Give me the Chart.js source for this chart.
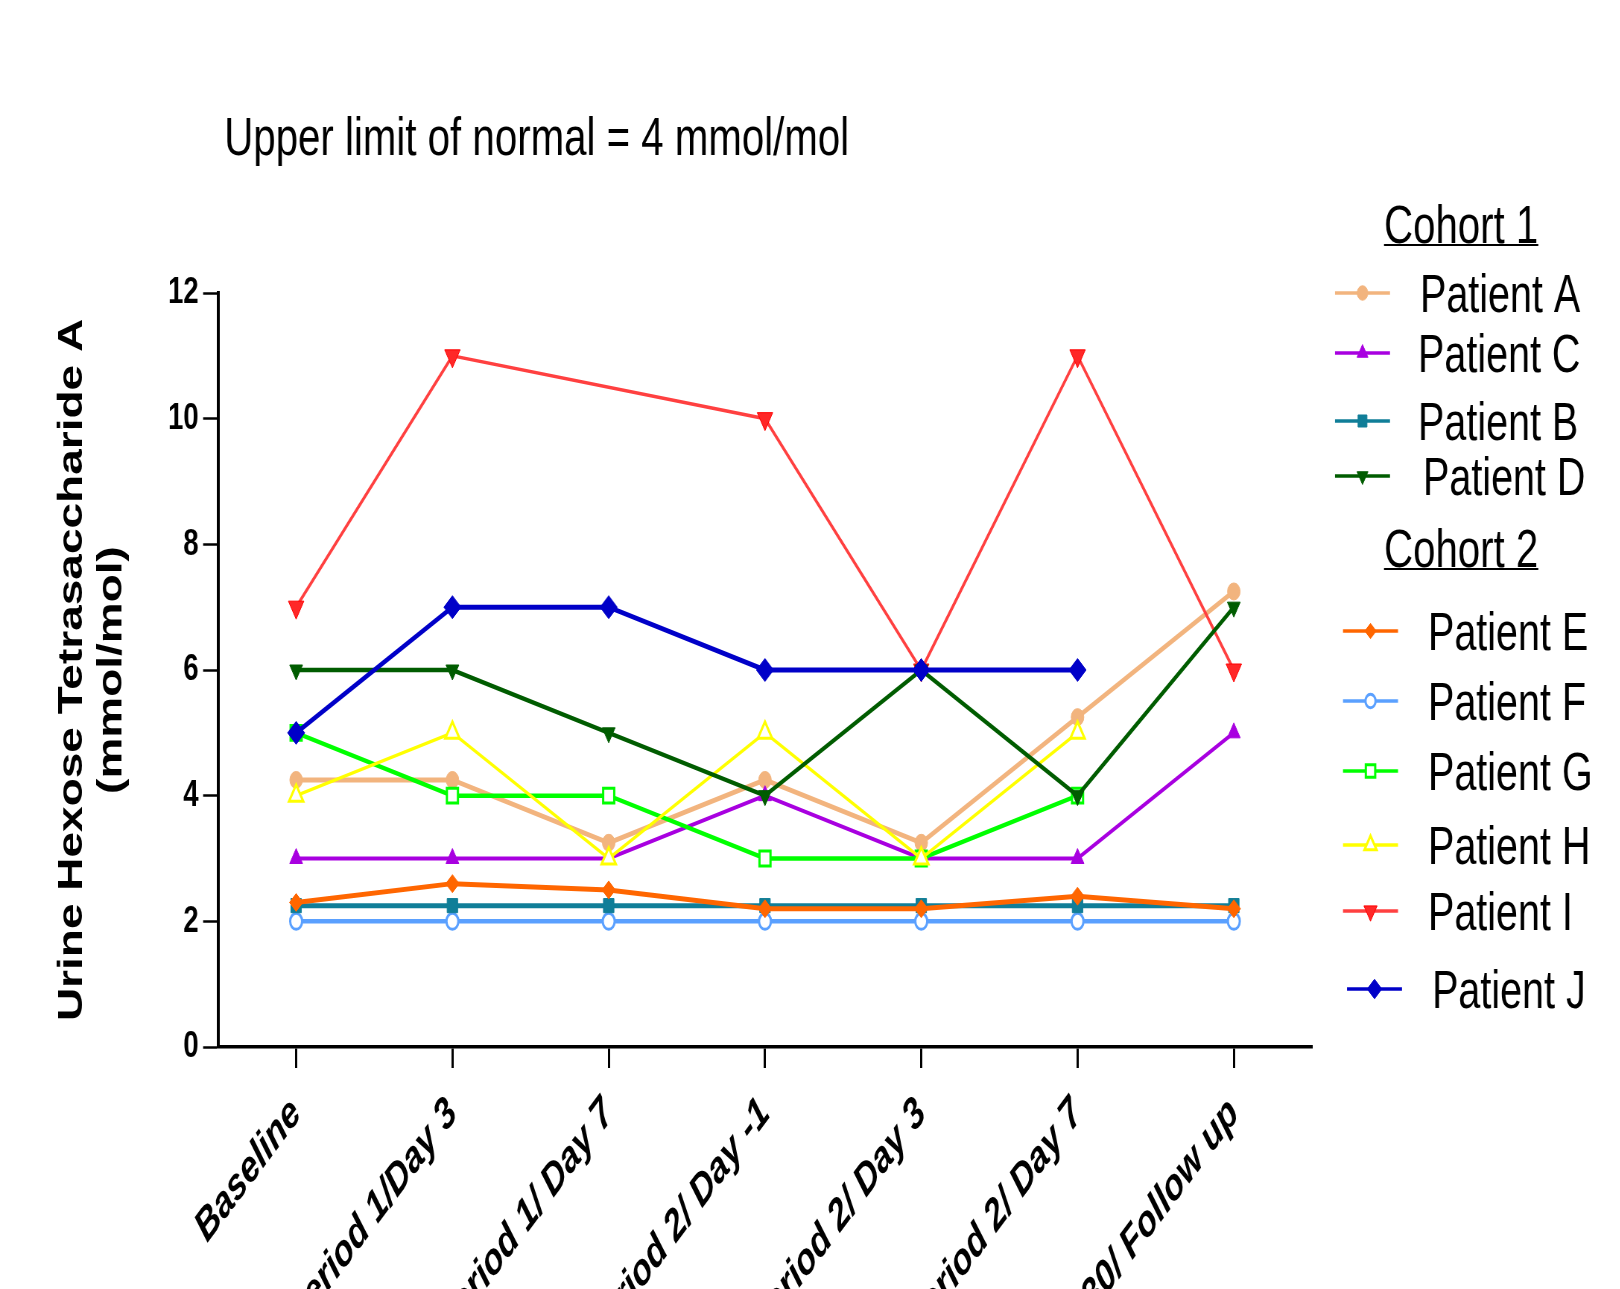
<!DOCTYPE html>
<html>
<head>
<meta charset="utf-8">
<script src="https://cdn.jsdelivr.net/npm/chart.js@4/dist/chart.umd.min.js"></script>
<style>
  html, body { margin: 0; padding: 0; background: #fff; overflow: hidden; }
  #frame { position: relative; width: 1620px; height: 1289px; overflow: hidden; background: #fff; }
  /* the figure is drawn wide and compressed horizontally, like the exported graph */
  #inner { position: absolute; left: 0; top: 0; width: 2175px; height: 1400px;
           transform: scaleX(0.745); transform-origin: 0 0; }
  canvas { display: block; }
</style>
</head>
<body>
<div id="frame"><div id="inner"><canvas id="c" width="2175" height="1400"></canvas></div></div>
<script>
const FONT = "'Liberation Sans', Arial, Helvetica, sans-serif";

const timepoints = ['Baseline', 'Period 1/Day 3', 'Period 1/ Day 7', 'Period 2/ Day -1',
                    'Period 2/ Day 3', 'Period 2/ Day 7', 'Day 30/ Follow up'];
const yTicks = [0, 2, 4, 6, 8, 10, 12];

// Urine Hex4 values (mmol/mol) per visit
const patientA = [4.25, 4.25, 3.25, 4.25, 3.25, 5.25, 7.25];
const patientB = [2.25, 2.25, 2.25, 2.25, 2.25, 2.25, 2.25];
const patientC = [3, 3, 3, 4, 3, 3, 5];
const patientD = [6, 6, 5, 4, 6, 4, 7];
const patientE = [2.3, 2.6, 2.5, 2.2, 2.2, 2.4, 2.2];
const patientF = [2, 2, 2, 2, 2, 2, 2];
const patientG = [5, 4, 4, 3, 3, 4, null];
const patientH = [4, 5, 3, 5, 3, 5, null];
const patientI = [7, 11, null, 10, 6, 11, 6];
const patientJ = [5, 7, 7, 6, 6, 6, null];

const cohort1 = ['Patient A', 'Patient C', 'Patient B', 'Patient D'];
const cohort2 = ['Patient E', 'Patient F', 'Patient G', 'Patient H', 'Patient I', 'Patient J'];

function series(label, data, color, style, opts) {
  return Object.assign({
    label, data,
    borderColor: color,
    backgroundColor: color,
    pointBackgroundColor: color,
    pointBorderColor: color,
    pointStyle: style,
    pointRadius: 8,
    pointBorderWidth: 1,
    pointRotation: 0,
    borderWidth: 4,
    tension: 0,
    spanGaps: true,
    fill: false
  }, opts || {});
}

// first dataset is painted last (on top)
const datasets = [
  series('Patient J', patientJ, '#0000C8', 'rectRot', { borderWidth: 5, pointRadius: 11.5 }),
  series('Patient E', patientE, '#FF6600', 'rectRot', { borderWidth: 5, pointRadius: 9 }),
  series('Patient B', patientB, '#107E98', 'rect', { borderWidth: 5, pointRadius: 10 }),
  series('Patient D', patientD, '#005C00', 'triangle', { borderWidth: 4.5, pointRadius: 10, pointRotation: 180 }),
  series('Patient I', patientI, '#FF4040', 'triangle', { borderWidth: 3.5, pointRadius: 12, pointRotation: 180,
                                                        pointBackgroundColor: '#FF2828', pointBorderColor: '#FF0000' }),
  series('Patient H', patientH, '#FFFF00', 'triangle', { borderWidth: 3.5, pointRadius: 11,
                                                        pointBackgroundColor: '#FFFFFF', pointBorderWidth: 3 }),
  series('Patient G', patientG, '#00FF00', 'rect', { borderWidth: 4.5, pointRadius: 10.5,
                                                    pointBackgroundColor: '#FFFFFF', pointBorderWidth: 3 }),
  series('Patient C', patientC, '#A800E0', 'triangle', { borderWidth: 4, pointRadius: 10 }),
  series('Patient A', patientA, '#F2B47E', 'circle', { borderWidth: 5, pointRadius: 8.5 }),
  series('Patient F', patientF, '#5AA0FF', 'circle', { borderWidth: 4.5, pointRadius: 8,
                                                      pointBackgroundColor: '#FFFFFF', pointBorderWidth: 3 })
];

// heading text above the plot
const headingPlugin = {
  id: 'heading',
  afterDraw(chart) {
    const ctx = chart.ctx;
    ctx.save();
    ctx.fillStyle = '#000';
    ctx.font = '54px ' + FONT;
    ctx.textAlign = 'left';
    ctx.textBaseline = 'alphabetic';
    ctx.fillText('Upper limit of normal = 4 mmol/mol', 301, 155);
    ctx.restore();
  }
};

// grouped legend on the right: cohort headings with their patients
const cohortLegendPlugin = {
  id: 'cohortLegend',
  afterDraw(chart) {
    const ctx = chart.ctx;
    const k = 1 / 0.745;
    const byLabel = {};
    chart.data.datasets.forEach(d => { byLabel[d.label] = d; });

    function heading(text, x, baseline) {
      ctx.font = '54px ' + FONT;
      ctx.fillStyle = '#000';
      ctx.textAlign = 'left';
      ctx.textBaseline = 'alphabetic';
      ctx.fillText(text, x, baseline);
      const w = ctx.measureText(text).width;
      ctx.fillRect(x, baseline + 1, w, 2);
    }
    function entry(label, x0, x1, y, textX) {
      const d = byLabel[label];
      ctx.save();
      ctx.strokeStyle = d.borderColor;
      ctx.lineWidth = 3.5;
      ctx.beginPath();
      ctx.moveTo(x0, y);
      ctx.lineTo(x1, y);
      ctx.stroke();
      ctx.fillStyle = d.pointBackgroundColor;
      ctx.strokeStyle = d.pointBorderColor;
      ctx.lineWidth = d.pointBorderWidth;
      const opts = { pointStyle: d.pointStyle, radius: d.pointRadius * 0.85, rotation: d.pointRotation,
                     borderWidth: d.pointBorderWidth };
      Chart.helpers.drawPoint(ctx, opts, (x0 + x1) / 2, y);
      ctx.restore();
      ctx.font = '53px ' + FONT;
      ctx.fillStyle = '#000';
      ctx.textAlign = 'left';
      ctx.textBaseline = 'alphabetic';
      ctx.fillText(label, textX, y + 19);
    }

    ctx.save();
    heading('Cohort 1', 1384 * k, 243);
    const c1y = [293, 353, 421, 476];
    const c1tx = [1420, 1418, 1418, 1423];
    cohort1.forEach((p, i) => entry(p, 1335 * k, 1390 * k, c1y[i], c1tx[i] * k));

    heading('Cohort 2', 1384 * k, 567);
    const c2y = [631, 701, 771, 845, 911, 989];
    cohort2.forEach((p, i) => {
      const shift = i === 5 ? 4 : 0;
      entry(p, (1343 + shift) * k, (1398 + shift) * k, c2y[i], (1428 + shift) * k);
    });
    ctx.restore();
  }
};

new Chart(document.getElementById('c'), {
  type: 'line',
  data: { labels: timepoints, datasets },
  plugins: [headingPlugin, cohortLegendPlugin],
  options: {
    responsive: false,
    animation: false,
    devicePixelRatio: 1,
    layout: { padding: { top: 293, right: 414, bottom: 0, left: 0 } },
    plugins: { legend: { display: false }, tooltip: { enabled: false }, title: { display: false } },
    scales: {
      x: {
        type: 'category',
        offset: true,
        afterFit(scale) { scale.height = 1400 - 1047; },
        grid: { display: true, drawOnChartArea: false, offset: false, tickLength: 21, tickWidth: 3, tickColor: '#000' },
        border: { display: true, color: '#000', width: 3.5 },
        ticks: {
          autoSkip: false, maxRotation: 45, minRotation: 45, padding: 20,
          color: '#000',
          font: { family: FONT, size: 44, weight: 'bold', style: 'italic' }
        }
      },
      y: {
        min: 0, max: 12,
        afterFit(scale) { scale.width = 292.6; },
        afterBuildTicks(scale) { scale.ticks = yTicks.map(v => ({ value: v })); },
        grid: { display: true, drawOnChartArea: false, tickLength: 20, tickWidth: 2.5, tickColor: '#000' },
        border: { display: true, color: '#000', width: 4 },
        ticks: {
          padding: 6, color: '#000',
          font: { family: FONT, size: 37, weight: 'bold' }
        },
        title: {
          display: true,
          text: ['Urine Hexose Tetrasaccharide A', '(mmol/mol)'],
          color: '#000',
          font: { family: FONT, size: 46, weight: 'bold', lineHeight: 1.17 },
          padding: { top: 70, bottom: 0 }
        }
      }
    }
  }
});
</script>
</body>
</html>
